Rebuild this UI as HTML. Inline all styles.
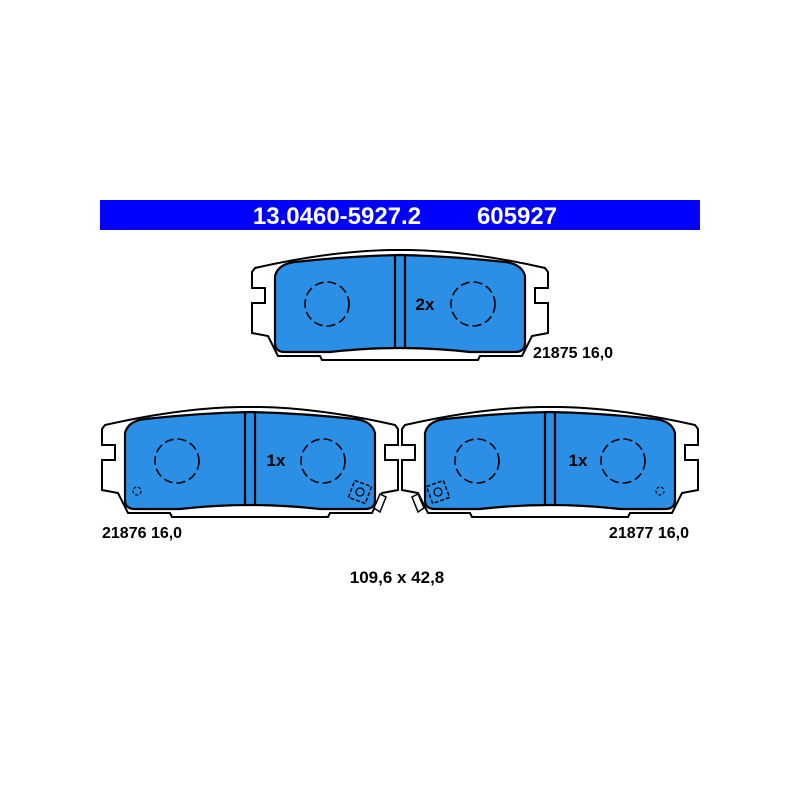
<!DOCTYPE html>
<html><head><meta charset="utf-8"><style>
html,body{margin:0;padding:0;background:#fff;}
</style></head><body>
<svg width="800" height="800" viewBox="0 0 800 800" xmlns="http://www.w3.org/2000/svg" font-family="Liberation Sans, sans-serif">
<defs>
<g id="pad">
<path d="M5,20 Q80,3 140,2 L160,2 Q220,3 295,20 L298,24 L298,40 L285,40 L285,55 L298,55 L298,85 L282,88 L272,108 L230,108 L228,112 L72,112 L70,108 L28,108 L18,88 L2,85 L2,55 L15,55 L15,40 L2,40 L2,24 Z" fill="#fff" stroke="#000" stroke-width="2"/>
<path d="M25,28 Q28,16 45,14 Q100,8 150,7 Q200,8 255,14 Q272,16 275,28 L275,95 Q275,104 265,104 L220,104 Q150,96 80,104 L35,104 Q25,104 25,95 Z" fill="#2b8fe6" stroke="#000" stroke-width="2.2"/>
<line x1="145" y1="7" x2="145" y2="100" stroke="#000" stroke-width="2.2"/>
<line x1="155" y1="7" x2="155" y2="100" stroke="#000" stroke-width="2.2"/>
<circle cx="77" cy="56" r="22" fill="none" stroke="#000" stroke-width="1.6" stroke-dasharray="9,4"/>
<circle cx="223" cy="56" r="22" fill="none" stroke="#000" stroke-width="1.6" stroke-dasharray="9,4"/>
</g>
</defs>
<rect x="100" y="200" width="600" height="30" fill="#0000ff"/>
<text x="337" y="224" fill="#fff" font-size="24" font-weight="bold" text-anchor="middle">13.0460-5927.2</text>
<text x="517" y="224" fill="#fff" font-size="24" font-weight="bold" text-anchor="middle">605927</text>

<use href="#pad" transform="translate(250,248)"/>
<text x="425" y="310" font-size="17" font-weight="bold" text-anchor="middle">2x</text>
<text x="533" y="358" font-size="16" font-weight="bold">21875 16,0</text>

<use href="#pad" transform="translate(100,405)"/>
<text x="276" y="466" font-size="17" font-weight="bold" text-anchor="middle">1x</text>
<circle cx="137" cy="491" r="4" fill="none" stroke="#000" stroke-width="1.2" stroke-dasharray="3,2"/>
<g transform="translate(360,492) rotate(20)"><rect x="-9" y="-9" width="18" height="18" fill="none" stroke="#000" stroke-width="1.5" stroke-dasharray="4,2"/><circle cx="0" cy="0" r="4" fill="none" stroke="#000" stroke-width="1.2"/></g>
<path d="M374,508 L380,494 L386,497 L380,512 Z" fill="#fff" stroke="#000" stroke-width="1.5"/>
<text x="102" y="538" font-size="16" font-weight="bold">21876 16,0</text>

<use href="#pad" transform="translate(400,405)"/>
<text x="578" y="466" font-size="17" font-weight="bold" text-anchor="middle">1x</text>
<circle cx="660" cy="491" r="4" fill="none" stroke="#000" stroke-width="1.2" stroke-dasharray="3,2"/>
<g transform="translate(438,492) rotate(-20)"><rect x="-9" y="-9" width="18" height="18" fill="none" stroke="#000" stroke-width="1.5" stroke-dasharray="4,2"/><circle cx="0" cy="0" r="4" fill="none" stroke="#000" stroke-width="1.2"/></g>
<path d="M424,508 L418,494 L412,497 L418,512 Z" fill="#fff" stroke="#000" stroke-width="1.5"/>
<text x="689" y="538" font-size="16" font-weight="bold" text-anchor="end">21877 16,0</text>

<text x="397" y="583" font-size="17" font-weight="bold" text-anchor="middle">109,6 x 42,8</text>
</svg>
</body></html>
